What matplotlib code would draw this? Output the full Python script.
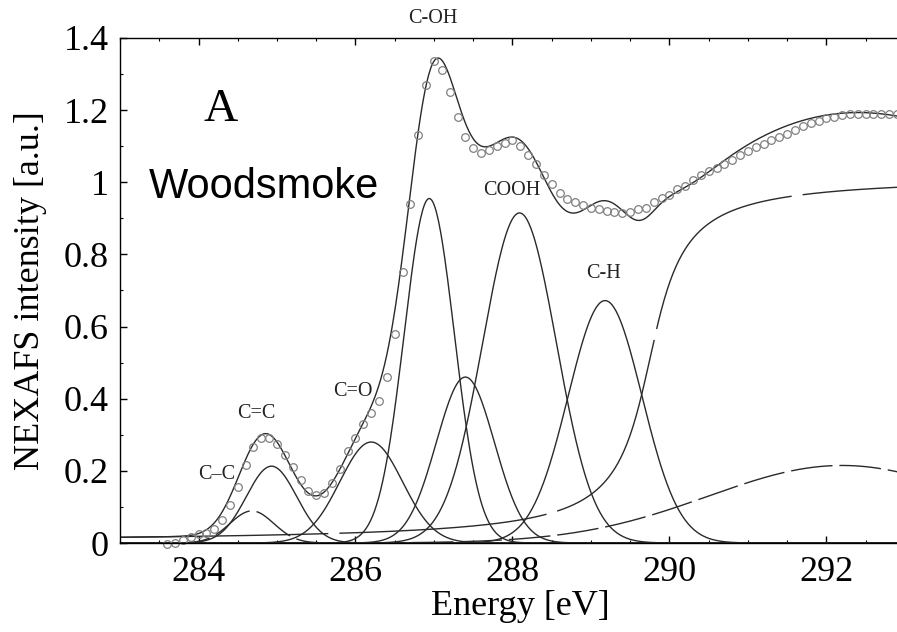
import numpy as np
import matplotlib
matplotlib.use("Agg")
import matplotlib.pyplot as plt
from matplotlib.ticker import MultipleLocator, FormatStrFormatter

# --------------------------
# data
# --------------------------
# measured spectrum (open circles), 0.1 eV steps from 283.6 eV
energy_start = 283.6
energy_step = 0.1
measured = [
    -0.003, 0.000, 0.008, 0.018, 0.025, 0.028, 0.040, 0.065, 0.105, 0.155,   # 283.6 - 284.5
    0.215, 0.265, 0.290, 0.292, 0.275, 0.245, 0.210, 0.175, 0.145, 0.133,    # 284.6 - 285.5
    0.138, 0.165, 0.205, 0.255, 0.290, 0.330, 0.360, 0.395, 0.460, 0.580,    # 285.6 - 286.5
    0.750, 0.940, 1.130, 1.270, 1.335, 1.310, 1.250, 1.180, 1.125, 1.095,    # 286.6 - 287.5
    1.080, 1.090, 1.100, 1.110, 1.117, 1.100, 1.075, 1.050, 1.020, 0.995,    # 287.6 - 288.5
    0.970, 0.955, 0.945, 0.937, 0.930, 0.926, 0.920, 0.918, 0.915, 0.918,    # 288.6 - 289.5
    0.926, 0.930, 0.945, 0.956, 0.965, 0.980, 0.990, 1.006, 1.020, 1.030,    # 289.6 - 290.5
    1.040, 1.050, 1.062, 1.075, 1.088, 1.098, 1.107, 1.116, 1.125, 1.135,    # 290.6 - 291.5
    1.145, 1.155, 1.164, 1.170, 1.177, 1.182, 1.186, 1.190, 1.190, 1.190,    # 291.6 - 292.5
    1.190, 1.190, 1.190, 1.190,                                              # 292.6 - 292.9
]

# gaussian fit components (centre eV, height, sigma eV)
peak_names = ["C-C", "C=C", "C=O", "C-OH", "C-OH2", "COOH", "C-H"]
peak_centers = [284.68, 284.93, 286.20, 286.94, 287.40, 288.09, 289.18]
peak_heights = [0.089, 0.213, 0.280, 0.955, 0.460, 0.915, 0.672]
peak_sigmas = [0.28, 0.32, 0.40, 0.32, 0.37, 0.47, 0.47]
peak_dashed = [True, False, False, False, False, False, False]

# ionisation step (arctan) and broad sigma* feature
step_center, step_width, step_height = 289.75, 0.33, 1.02
broad_center, broad_height, broad_sigma = 292.2, 0.215, 1.7

# labels
labels = ["C-OH", "COOH", "C-H", "C=O", "C=C", "C\u2013C"]
label_x = [286.98, 287.99, 289.16, 285.97, 284.74, 284.23]
label_y = [1.455, 0.976, 0.746, 0.419, 0.360, 0.191]

# --------------------------
# model curves
# --------------------------
E = np.linspace(283.0, 293.2, 800)


def gauss(x, c, h, s):
    return h * np.exp(-(x - c) ** 2 / (2 * s ** 2))


components = [gauss(E, c, h, s) for c, h, s in zip(peak_centers, peak_heights, peak_sigmas)]
step = step_height * (0.5 + np.arctan((E - step_center) / step_width) / np.pi)
broad = gauss(E, broad_center, broad_height, broad_sigma)
total = np.sum(components, axis=0) + step + broad

e_meas = energy_start + energy_step * np.arange(len(measured))

# --------------------------
# plot
# --------------------------
serif = ["Liberation Serif", "DejaVu Serif"]
plt.rcParams["font.family"] = serif

fig = plt.figure(figsize=(8.97, 6.32), dpi=100)
ax = fig.add_axes([0.1338, 0.1408, 0.8925, 0.7991])

line_kw = dict(color="#2a2a2a", lw=1.0)
dash = (30, 5)

for comp, d in zip(components, peak_dashed):
    if d:
        ax.plot(E, comp, dashes=dash, **line_kw)
    else:
        ax.plot(E, comp, **line_kw)
ax.plot(E, step, dashes=(150, 8), **line_kw)
ax.plot(E, broad, dashes=dash, **line_kw)
ax.plot(E, total, **line_kw)

ax.plot(e_meas, measured, "o", mfc="none", mec="#808080", ms=5.5, mew=0.9, clip_on=False)

ax.set_xlim(283.0, 293.2)
ax.set_ylim(0, 1.4)

ax.xaxis.set_major_locator(MultipleLocator(2))
ax.xaxis.set_minor_locator(MultipleLocator(0.5))
ax.yaxis.set_major_locator(MultipleLocator(0.2))
ax.yaxis.set_minor_locator(MultipleLocator(0.1))
ax.yaxis.set_major_formatter(FormatStrFormatter("%g"))

ax.tick_params(which="both", direction="in", top=True, right=True, labelsize=26)
ax.tick_params(which="major", length=5, width=1)
ax.tick_params(which="minor", length=2.5, width=0.8)
ax.tick_params(axis="x", pad=9)
ax.tick_params(axis="y", pad=8)

for sp in ax.spines.values():
    sp.set_linewidth(1.0)

ax.set_xlabel("Energy [eV]", fontsize=26, labelpad=1)
ax.set_ylabel("NEXAFS intensity [a.u.]", fontsize=26, labelpad=12)

for t, x, y in zip(labels, label_x, label_y):
    ax.text(x, y, t, fontsize=14.5, ha="center", va="center", color="#222222")

ax.text(284.28, 1.20, "A", fontsize=34, ha="center", va="center")
ax.text(284.83, 0.987, "Woodsmoke", fontsize=30, ha="center", va="center",
        family=["Liberation Sans", "DejaVu Sans"])

fig.savefig("out.png", dpi=100)
